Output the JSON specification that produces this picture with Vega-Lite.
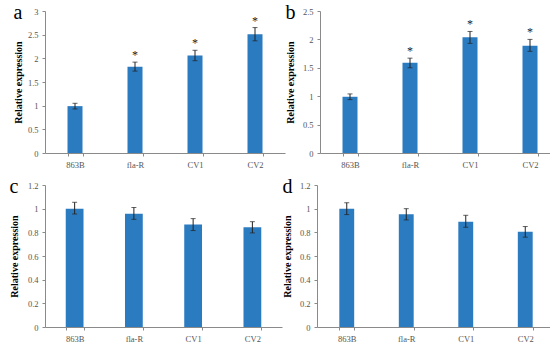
{
  "$schema": "https://vega.github.io/schema/vega-lite/v6.json",
  "padding": {"left": 9, "top": 3, "right": 0, "bottom": 0},
  "background": "white",
  "datasets": {
    "d": [
      {"panel": "a", "group": "863B", "value": 0.99, "lo": 0.93, "hi": 1.05, "sig": false},
      {"panel": "a", "group": "fla-R", "value": 1.82, "lo": 1.73, "hi": 1.92, "sig": true},
      {"panel": "a", "group": "CV1", "value": 2.06, "lo": 1.95, "hi": 2.17, "sig": true},
      {"panel": "a", "group": "CV2", "value": 2.51, "lo": 2.37, "hi": 2.65, "sig": true},
      {"panel": "b", "group": "863B", "value": 0.99, "lo": 0.94, "hi": 1.04, "sig": false},
      {"panel": "b", "group": "fla-R", "value": 1.59, "lo": 1.5, "hi": 1.67, "sig": true},
      {"panel": "b", "group": "CV1", "value": 2.04, "lo": 1.93, "hi": 2.14, "sig": true},
      {"panel": "b", "group": "CV2", "value": 1.89, "lo": 1.79, "hi": 2.0, "sig": true},
      {"panel": "c", "group": "863B", "value": 1.0, "lo": 0.955, "hi": 1.054, "sig": false},
      {"panel": "c", "group": "fla-R", "value": 0.958, "lo": 0.91, "hi": 1.01, "sig": false},
      {"panel": "c", "group": "CV1", "value": 0.866, "lo": 0.815, "hi": 0.916, "sig": false},
      {"panel": "c", "group": "CV2", "value": 0.843, "lo": 0.795, "hi": 0.89, "sig": false},
      {"panel": "d", "group": "863B", "value": 1.0, "lo": 0.95, "hi": 1.05, "sig": false},
      {"panel": "d", "group": "fla-R", "value": 0.953, "lo": 0.905, "hi": 1.0, "sig": false},
      {"panel": "d", "group": "CV1", "value": 0.89, "lo": 0.843, "hi": 0.944, "sig": false},
      {"panel": "d", "group": "CV2", "value": 0.804, "lo": 0.759, "hi": 0.849, "sig": false}
    ]
  },
  "data": {"name": "d"},
  "config": {
    "view": {"stroke": null},
    "font": "Liberation Serif",
    "axis": {
      "labelFont": "Liberation Serif",
      "labelFontSize": 8.5,
      "labelColor": "#555555",
      "labelOverlap": false,
      "titleFont": "Liberation Serif",
      "titleFontSize": 10,
      "titleFontWeight": "bold",
      "titleColor": "#000000",
      "domainColor": "#8a8a8a",
      "tickColor": "#8a8a8a",
      "tickSize": 3,
      "grid": false
    },
    "title": {"font": "Liberation Serif", "fontSize": 20, "fontWeight": "normal", "color": "#000000", "anchor": "start", "frame": "bounds", "offset": -16},
    "concat": {"spacing": 0}
  },
  "vconcat": [
    {
      "hconcat": [
        {
          "width": 240, "height": 142,
          "title": {"text": "a"},
          "transform": [{"filter": "datum.panel === 'a'"}],
          "encoding": {"x": {"field": "group", "type": "nominal", "sort": ["863B", "fla-R", "CV1", "CV2"], "scale": {"paddingInner": 0.75, "paddingOuter": 0.375}, "axis": {"title": null, "labelAngle": 0, "tickBand": "extent", "labelPadding": 4}}},
          "layer": [
            {"mark": {"type": "bar", "color": "#2b7bc1"}, "encoding": {"y": {"field": "value", "type": "quantitative", "title": "Relative expression", "scale": {"domain": [0, 3]}, "axis": {"values": [0, 0.5, 1, 1.5, 2, 2.5, 3], "format": "~g", "labelPadding": 4, "titlePadding": 4}}}},
            {"mark": {"type": "rule", "color": "#222222"}, "encoding": {"y": {"field": "lo", "type": "quantitative", "title": "Relative expression", "scale": {"domain": [0, 3]}, "axis": {"values": [0, 0.5, 1, 1.5, 2, 2.5, 3], "format": "~g", "labelPadding": 4, "titlePadding": 4}}, "y2": {"field": "hi"}}},
            {"mark": {"type": "tick", "color": "#222222", "size": 5, "thickness": 1}, "encoding": {"y": {"field": "lo", "type": "quantitative", "title": "Relative expression", "scale": {"domain": [0, 3]}, "axis": {"values": [0, 0.5, 1, 1.5, 2, 2.5, 3], "format": "~g", "labelPadding": 4, "titlePadding": 4}}}},
            {"mark": {"type": "tick", "color": "#222222", "size": 5, "thickness": 1}, "encoding": {"y": {"field": "hi", "type": "quantitative", "title": "Relative expression", "scale": {"domain": [0, 3]}, "axis": {"values": [0, 0.5, 1, 1.5, 2, 2.5, 3], "format": "~g", "labelPadding": 4, "titlePadding": 4}}}},
            {"transform": [{"filter": "datum.sig"}], "mark": {"type": "text", "text": "*", "dy": -7, "fontSize": 12, "font": "Liberation Serif", "color": "#222222"}, "encoding": {"y": {"field": "hi", "type": "quantitative", "title": "Relative expression", "scale": {"domain": [0, 3]}, "axis": {"values": [0, 0.5, 1, 1.5, 2, 2.5, 3], "format": "~g", "labelPadding": 4, "titlePadding": 4}}}}
          ]
        },
        {
          "width": 240, "height": 142,
          "title": {"text": "b"},
          "transform": [{"filter": "datum.panel === 'b'"}],
          "encoding": {"x": {"field": "group", "type": "nominal", "sort": ["863B", "fla-R", "CV1", "CV2"], "scale": {"paddingInner": 0.75, "paddingOuter": 0.375}, "axis": {"title": null, "labelAngle": 0, "tickBand": "extent", "labelPadding": 4}}},
          "layer": [
            {"mark": {"type": "bar", "color": "#2b7bc1"}, "encoding": {"y": {"field": "value", "type": "quantitative", "title": "Relative expression", "scale": {"domain": [0, 2.5]}, "axis": {"values": [0, 0.5, 1, 1.5, 2, 2.5], "format": "~g", "labelPadding": 4, "titlePadding": 7}}}},
            {"mark": {"type": "rule", "color": "#222222"}, "encoding": {"y": {"field": "lo", "type": "quantitative", "title": "Relative expression", "scale": {"domain": [0, 2.5]}, "axis": {"values": [0, 0.5, 1, 1.5, 2, 2.5], "format": "~g", "labelPadding": 4, "titlePadding": 7}}, "y2": {"field": "hi"}}},
            {"mark": {"type": "tick", "color": "#222222", "size": 5, "thickness": 1}, "encoding": {"y": {"field": "lo", "type": "quantitative", "title": "Relative expression", "scale": {"domain": [0, 2.5]}, "axis": {"values": [0, 0.5, 1, 1.5, 2, 2.5], "format": "~g", "labelPadding": 4, "titlePadding": 7}}}},
            {"mark": {"type": "tick", "color": "#222222", "size": 5, "thickness": 1}, "encoding": {"y": {"field": "hi", "type": "quantitative", "title": "Relative expression", "scale": {"domain": [0, 2.5]}, "axis": {"values": [0, 0.5, 1, 1.5, 2, 2.5], "format": "~g", "labelPadding": 4, "titlePadding": 7}}}},
            {"transform": [{"filter": "datum.sig"}], "mark": {"type": "text", "text": "*", "dy": -7, "fontSize": 12, "font": "Liberation Serif", "color": "#222222"}, "encoding": {"y": {"field": "hi", "type": "quantitative", "title": "Relative expression", "scale": {"domain": [0, 2.5]}, "axis": {"values": [0, 0.5, 1, 1.5, 2, 2.5], "format": "~g", "labelPadding": 4, "titlePadding": 7}}}}
          ]
        }
      ]
    },
    {
      "hconcat": [
        {
          "width": 237, "height": 142,
          "title": {"text": "c"},
          "transform": [{"filter": "datum.panel === 'c'"}],
          "encoding": {"x": {"field": "group", "type": "nominal", "sort": ["863B", "fla-R", "CV1", "CV2"], "scale": {"paddingInner": 0.7, "paddingOuter": 0.35}, "axis": {"title": null, "labelAngle": 0, "tickBand": "extent", "labelPadding": 4}}},
          "layer": [
            {"mark": {"type": "bar", "color": "#2b7bc1"}, "encoding": {"y": {"field": "value", "type": "quantitative", "title": "Relative expression", "scale": {"domain": [0, 1.2]}, "axis": {"values": [0, 0.2, 0.4, 0.6, 0.8, 1, 1.2], "format": "~g", "labelPadding": 4, "titlePadding": 8}}}},
            {"mark": {"type": "rule", "color": "#222222"}, "encoding": {"y": {"field": "lo", "type": "quantitative", "title": "Relative expression", "scale": {"domain": [0, 1.2]}, "axis": {"values": [0, 0.2, 0.4, 0.6, 0.8, 1, 1.2], "format": "~g", "labelPadding": 4, "titlePadding": 8}}, "y2": {"field": "hi"}}},
            {"mark": {"type": "tick", "color": "#222222", "size": 5, "thickness": 1}, "encoding": {"y": {"field": "lo", "type": "quantitative", "title": "Relative expression", "scale": {"domain": [0, 1.2]}, "axis": {"values": [0, 0.2, 0.4, 0.6, 0.8, 1, 1.2], "format": "~g", "labelPadding": 4, "titlePadding": 8}}}},
            {"mark": {"type": "tick", "color": "#222222", "size": 5, "thickness": 1}, "encoding": {"y": {"field": "hi", "type": "quantitative", "title": "Relative expression", "scale": {"domain": [0, 1.2]}, "axis": {"values": [0, 0.2, 0.4, 0.6, 0.8, 1, 1.2], "format": "~g", "labelPadding": 4, "titlePadding": 8}}}}
          ]
        },
        {
          "width": 238, "height": 142,
          "title": {"text": "d"},
          "transform": [{"filter": "datum.panel === 'd'"}],
          "encoding": {"x": {"field": "group", "type": "nominal", "sort": ["863B", "fla-R", "CV1", "CV2"], "scale": {"paddingInner": 0.75, "paddingOuter": 0.375}, "axis": {"title": null, "labelAngle": 0, "tickBand": "extent", "labelPadding": 4}}},
          "layer": [
            {"mark": {"type": "bar", "color": "#2b7bc1"}, "encoding": {"y": {"field": "value", "type": "quantitative", "title": "Relative expression", "scale": {"domain": [0, 1.2]}, "axis": {"values": [0, 0.2, 0.4, 0.6, 0.8, 1, 1.2], "format": "~g", "labelPadding": 4, "titlePadding": 7}}}},
            {"mark": {"type": "rule", "color": "#222222"}, "encoding": {"y": {"field": "lo", "type": "quantitative", "title": "Relative expression", "scale": {"domain": [0, 1.2]}, "axis": {"values": [0, 0.2, 0.4, 0.6, 0.8, 1, 1.2], "format": "~g", "labelPadding": 4, "titlePadding": 7}}, "y2": {"field": "hi"}}},
            {"mark": {"type": "tick", "color": "#222222", "size": 5, "thickness": 1}, "encoding": {"y": {"field": "lo", "type": "quantitative", "title": "Relative expression", "scale": {"domain": [0, 1.2]}, "axis": {"values": [0, 0.2, 0.4, 0.6, 0.8, 1, 1.2], "format": "~g", "labelPadding": 4, "titlePadding": 7}}}},
            {"mark": {"type": "tick", "color": "#222222", "size": 5, "thickness": 1}, "encoding": {"y": {"field": "hi", "type": "quantitative", "title": "Relative expression", "scale": {"domain": [0, 1.2]}, "axis": {"values": [0, 0.2, 0.4, 0.6, 0.8, 1, 1.2], "format": "~g", "labelPadding": 4, "titlePadding": 7}}}}
          ]
        }
      ]
    }
  ],
  "spacing": 8
}
